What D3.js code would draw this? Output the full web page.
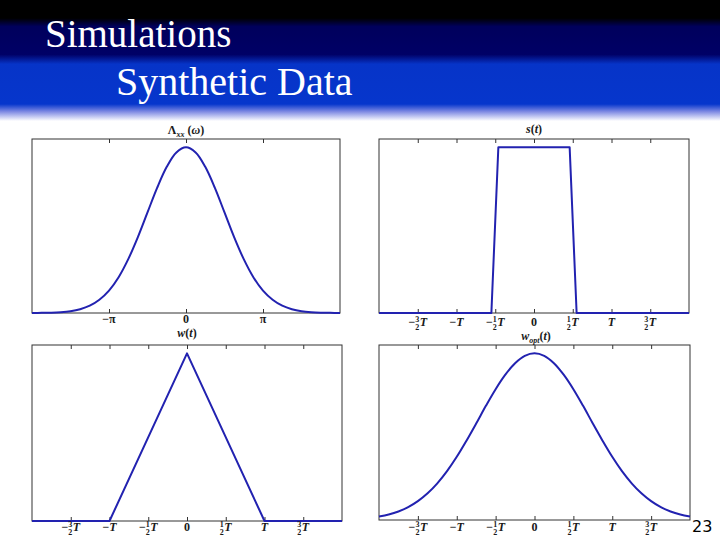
<!DOCTYPE html>
<html><head><meta charset="utf-8">
<script src="https://cdn.jsdelivr.net/npm/d3@7"></script>
<style>html,body{margin:0;padding:0;background:#fff;} svg{display:block}
.serif{font-family:'Liberation Serif','Times New Roman',Times,serif;}</style>
</head><body><svg id="c" width="720" height="540"></svg>
<script>
// ---------- data ----------
// Λxx(ω): x in units of π
const lambdaX = [-2,-1.875,-1.75,-1.625,-1.5,-1.375,-1.25,-1.125,-1,-0.875,-0.75,-0.625,-0.5,-0.375,-0.25,-0.125,0,
  0.125,0.25,0.375,0.5,0.625,0.75,0.875,1,1.125,1.25,1.375,1.5,1.625,1.75,1.875,2];
const lambdaY = [0.000,0.001,0.002,0.005,0.011,0.023,0.044,0.080,0.135,0.216,0.325,0.458,0.607,0.755,0.882,0.969,1.000,
  0.969,0.882,0.755,0.607,0.458,0.325,0.216,0.135,0.080,0.044,0.023,0.011,0.005,0.002,0.001,0.000];
// s(t): x in units of T
const sX = [-2,-0.55,-0.46,0.46,0.55,2];
const sY = [0,0,1,1,0,0];
// w(t)
const wX = [-2,-1,0,1,2];
const wY = [0,0,1,0,0];
// w_opt(t)
const woptX = [-2,-1.875,-1.75,-1.625,-1.5,-1.375,-1.25,-1.125,-1,-0.875,-0.75,-0.625,-0.5,-0.375,-0.25,-0.125,0,
  0.125,0.25,0.375,0.5,0.625,0.75,0.875,1,1.125,1.25,1.375,1.5,1.625,1.75,1.875,2];
const woptY = [0.021,0.033,0.051,0.077,0.113,0.160,0.220,0.293,0.379,0.476,0.579,0.685,0.785,0.872,0.941,0.985,1.000,
  0.985,0.941,0.872,0.785,0.685,0.579,0.476,0.379,0.293,0.220,0.160,0.113,0.077,0.051,0.033,0.021];
// tick values & labels
const piTicks = [-1,0,1];
const piTickLabels = ["−π","0","π"];
const tTicks = [-1.5,-1,-0.5,0,0.5,1,1.5];
const tTickLabels = ["−3/2T","−T","−1/2T","0","1/2T","T","3/2T"];

// ---------- drawing ----------
const svg = d3.select("#c");
const defs = svg.append("defs");
const grad = defs.append("linearGradient").attr("id","hdr").attr("x1",0).attr("y1",0).attr("x2",0).attr("y2",1);
[[0,"#000000"],[0.15,"#000000"],[0.22,"#00005c"],[0.45,"#000066"],[0.53,"#0634c8"],[0.86,"#0636cc"],[0.92,"#7a86e2"],[1,"#ffffff"]]
  .forEach(([o,c])=>grad.append("stop").attr("offset",o).attr("stop-color",c));
svg.append("rect").attr("x",0).attr("y",0).attr("width",720).attr("height",121).attr("fill","url(#hdr)");

svg.append("text").attr("class","serif").attr("x",45).attr("y",47)
  .attr("font-size",39).attr("fill","#fff").text("Simulations");
svg.append("text").attr("class","serif").attr("x",116).attr("y",95)
  .attr("font-size",40).attr("fill","#fff").text("Synthetic Data");

svg.append("text").attr("x",692).attr("y",532).attr("font-family","'DejaVu Sans', sans-serif")
  .attr("font-size",16).attr("fill","#000").text("23");

const LINE = "#2222b0";

function tickLabel(g, xpos, ypos, lab) {
  const t = g.append("text").attr("class","serif").attr("x",xpos).attr("y",ypos).attr("text-anchor","middle")
    .attr("font-weight","bold").attr("font-size",12).attr("fill","#1a1a1a");
  const m = lab.match(/^(−?)(?:(\d)\/(\d))?(T?)$/);
  if (!m || (!m[2] && !m[4])) { t.text(lab); return; }
  if (m[1]) t.append("tspan").text(m[1]);
  if (m[2]) {
    t.append("tspan").attr("font-size",8).attr("dy",-4).text(m[2]);
    t.append("tspan").attr("font-size",8).attr("dx",-4).attr("dy",7.5).text(m[3]);
    t.append("tspan").attr("font-style","italic").attr("dy",-3.5).attr("dx",0.5).text("T");
  } else {
    t.append("tspan").attr("font-style","italic").text("T");
  }
}

function panel(cfg) {
  const {x0,x1,y0,y1,xs,ys,ticks,labels,labelY} = cfg;
  const x = d3.scaleLinear().domain([-2,2]).range([x0,x1]);
  const y = d3.scaleLinear().domain([0,1.05]).range([y1,y0]);
  const g = svg.append("g");
  g.append("rect").attr("x",x0).attr("y",y0).attr("width",x1-x0).attr("height",y1-y0)
    .attr("fill","#fff").attr("stroke","#333").attr("stroke-width",1);
  const axB = g.append("g").attr("transform",`translate(0,${y1})`)
    .call(d3.axisBottom(x).tickValues(ticks).tickSize(-4).tickFormat(""));
  const axT = g.append("g").attr("transform",`translate(0,${y0})`)
    .call(d3.axisTop(x).tickValues(ticks).tickSize(-4).tickFormat(""));
  [axB,axT].forEach(a=>{ a.select(".domain").remove(); a.selectAll("line").attr("stroke","#333"); });
  const pts = xs.map((v,i)=>[v,ys[i]]);
  g.append("path").datum(pts).attr("fill","none").attr("stroke",LINE).attr("stroke-width",2)
    .attr("stroke-linejoin","round")
    .attr("d", d3.line().x(d=>x(d[0])).y(d=>y(d[1])).curve(cfg.smooth ? d3.curveCatmullRom : d3.curveLinear));
  ticks.forEach((tv,i)=>tickLabel(g, x(tv), labelY, labels[i]));
  return g;
}

function title(xpos, ypos, parts) {
  const t = svg.append("text").attr("class","serif").attr("x",xpos).attr("y",ypos).attr("text-anchor","middle")
    .attr("font-weight","bold").attr("font-size",12).attr("fill","#1a1a1a");
  parts.forEach(p=>{
    const s = t.append("tspan").text(p.t);
    if (p.i) s.attr("font-style","italic");
    if (p.sub) s.attr("font-size",8).attr("dy",2.5);
    if (p.up) s.attr("dy",-2.5);
  });
}

panel({x0:32,x1:340,y0:139,y1:313,xs:lambdaX,ys:lambdaY,ticks:piTicks,labels:piTickLabels,labelY:323,smooth:true});
panel({x0:379,x1:689,y0:139,y1:313,xs:sX,ys:sY,ticks:tTicks,labels:tTickLabels,labelY:326});
panel({x0:32,x1:342,y0:345,y1:521,xs:wX,ys:wY,ticks:tTicks,labels:tTickLabels,labelY:531});
panel({x0:379,x1:690,y0:345,y1:520,xs:woptX,ys:woptY,ticks:tTicks,labels:tTickLabels,labelY:531,smooth:true});

title(186,134,[{t:"Λ"},{t:"xx",i:1,sub:1},{t:" (",up:1},{t:"ω",i:1},{t:")"}]);
title(534,133,[{t:"s",i:1},{t:"("},{t:"t",i:1},{t:")"}]);
title(187,337,[{t:"w",i:1},{t:"("},{t:"t",i:1},{t:")"}]);
title(536,340,[{t:"w",i:1},{t:"opt",i:1,sub:1},{t:"(",up:1},{t:"t",i:1},{t:")"}]);
</script>
</body></html>
